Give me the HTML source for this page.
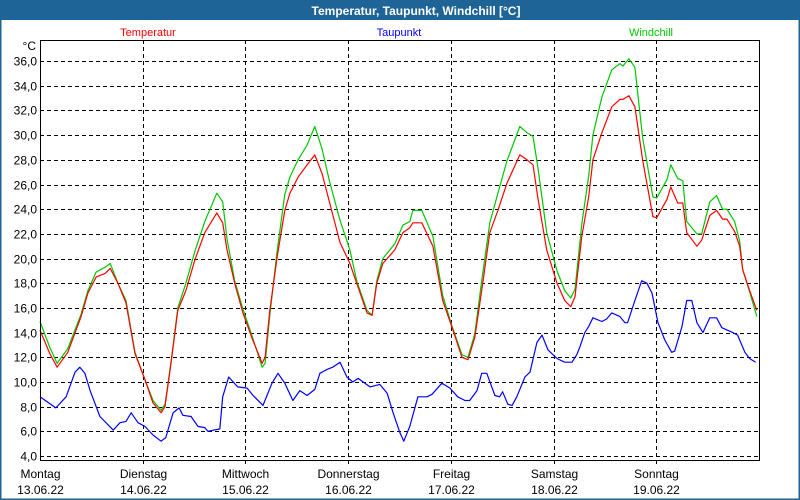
<!DOCTYPE html>
<html><head><meta charset="utf-8"><style>
body{margin:0;width:800px;height:500px;overflow:hidden;background:#fff;font-family:"Liberation Sans",sans-serif}
svg{display:block}
</style></head><body>
<svg id="chart" width="800" height="500" xmlns="http://www.w3.org/2000/svg" font-family="Liberation Sans, sans-serif">
<rect x="0.5" y="0.5" width="799" height="499" fill="#fff" stroke="#1f6496" stroke-width="2"/>
<rect x="0" y="0" width="800" height="20" fill="#1f6496"/>
<text x="416" y="15" text-anchor="middle" fill="#fff" font-size="12" font-weight="bold">Temperatur, Taupunkt, Windchill [°C]</text>
<text x="148" y="36" text-anchor="middle" fill="#ff0000" font-size="11">Temperatur</text>
<text x="399" y="36" text-anchor="middle" fill="#0000ff" font-size="11">Taupunkt</text>
<text x="651" y="36" text-anchor="middle" fill="#00c800" font-size="11">Windchill</text>
<text x="36" y="50" text-anchor="end" font-size="12">°C</text>
<g id="grid"></g>
<g id="series"></g>
<rect x="40.5" y="40.5" width="719" height="420" fill="none" stroke="#000" stroke-width="1"/>
<g id="labels"></g>
</svg>
<script>
const yTicks=[36,34,32,30,28,26,24,22,20,18,16,14,12,10,8,6,4];
const dayNames=["Montag","Dienstag","Mittwoch","Donnerstag","Freitag","Samstag","Sonntag"];
const dayDates=["13.06.22","14.06.22","15.06.22","16.06.22","17.06.22","18.06.22","19.06.22"];
const tHours=[0,2.3,4.0,6.5,9.6,11.2,13.1,15.2,16.4,18.2,20.1,22.2,24.5,26.4,28.3,29.2,30.6,32.2,34.1,36.2,38.5,41.3,42.7,43.7,45.5,47.4,49.5,51.9,52.6,53.7,55.4,57.2,58.4,60.3,62.4,64.2,65.9,67.7,70.1,72.4,74.0,76.4,77.6,78.7,80.1,82.9,84.8,86.4,87.1,89.2,91.8,94.1,96.2,98.6,100.0,101.6,103.2,105.1,107.0,109.1,112.1,113.8,115.2,116.3,118.4,120.8,122.6,124.0,125.0,126.6,128.2,129.2,131.3,133.6,135.5,136.2,137.6,139.0,140.8,143.2,144.1,146.5,147.4,149.0,150.2,151.1,153.5,154.6,156.5,158.1,159.5,160.5,162.3,163.5,164.2,165.8,167.5];
const temperatur=[14.2,12.3,11.2,12.4,15.3,17.2,18.5,18.8,19.2,18.0,16.4,12.3,10.2,8.3,7.5,8.0,11.5,15.8,17.4,19.9,22.1,23.7,22.9,20.7,18.0,15.6,13.6,11.5,12.0,15.8,20.1,23.9,25.3,26.6,27.6,28.4,26.9,24.5,21.3,19.6,18.0,15.6,15.4,18.0,19.6,20.7,22.1,22.5,22.9,22.9,21.0,16.6,14.5,12.0,11.8,13.6,17.4,22.1,23.9,26.1,28.4,28.0,27.6,25.0,20.7,18.0,16.6,16.1,16.9,21.8,25.0,28.0,30.2,32.3,32.9,32.9,33.2,32.3,28.0,23.4,23.3,24.8,25.8,24.5,24.5,22.1,21.0,21.5,23.5,23.9,23.2,23.2,22.2,21.0,19.1,17.4,15.8];
const windchill=[14.9,12.8,11.5,12.7,15.5,17.4,18.9,19.3,19.6,18.0,16.6,12.4,10.2,8.5,7.7,8.2,11.6,16.0,18.0,20.6,23.0,25.3,24.6,21.6,18.2,15.9,13.8,11.2,11.5,15.4,20.6,25.2,26.6,28.0,29.2,30.7,28.9,26.2,23.1,20.7,18.2,15.8,15.4,18.2,20.0,21.2,22.7,23.0,23.9,23.9,21.8,17.0,14.6,12.2,12.0,13.9,18.2,22.9,25.3,27.9,30.7,30.2,29.9,27.5,22.1,19.0,17.4,16.8,17.5,22.8,26.7,30.0,33.1,35.3,35.8,35.6,36.2,35.5,29.8,25.0,24.9,26.4,27.6,26.5,26.3,23.0,22.0,22.0,24.6,25.1,24.0,24.0,23.0,21.4,19.1,17.3,15.3];
const dHours=[0,3.7,6.1,8.2,9.3,10.5,11.7,14.0,17.1,18.7,20.1,21.3,22.9,24.5,26.4,28.3,29.4,31.1,32.5,33.4,35.3,36.9,38.5,39.2,42.0,42.7,44.1,46.2,48.4,49.8,52.1,54.2,55.6,57.2,59.1,60.7,62.4,64.2,65.4,67.0,68.4,70.1,71.7,73.1,74.3,77.1,79.4,81.1,82.5,84.1,85.0,86.4,88.3,90.4,91.6,93.9,95.8,97.6,99.3,100.4,102.1,103.2,104.4,106.3,107.4,108.1,109.3,110.3,111.4,113.3,114.5,116.1,117.3,118.7,120.8,122.6,124.3,125.4,126.1,127.3,128.2,129.2,131.3,132.4,133.6,135.5,136.7,137.3,139.0,140.6,141.8,143.0,144.4,146.0,147.6,148.3,150.0,151.1,152.3,153.5,154.9,156.5,158.1,159.3,161.9,163.0,164.7,165.8,167.2];
const taupunkt=[8.8,7.9,8.8,10.8,11.2,10.7,9.3,7.2,6.1,6.7,6.8,7.5,6.7,6.4,5.7,5.2,5.5,7.5,7.9,7.3,7.2,6.4,6.3,6.0,6.2,8.8,10.4,9.6,9.5,8.9,8.1,9.9,10.7,9.9,8.5,9.3,8.9,9.4,10.7,11.0,11.2,11.6,10.4,10.0,10.3,9.6,9.8,9.1,7.5,5.9,5.2,6.4,8.8,8.8,9.0,9.9,9.5,8.8,8.5,8.5,9.3,10.7,10.7,8.9,8.8,9.2,8.2,8.1,8.8,10.4,10.8,13.2,13.8,12.6,11.9,11.6,11.6,12.2,12.8,14.0,14.5,15.2,14.9,15.1,15.6,15.3,14.8,14.8,16.6,18.2,18.0,17.2,14.8,13.4,12.4,12.5,14.5,16.6,16.6,14.8,14.0,15.2,15.2,14.4,14.0,13.8,12.4,11.9,11.6];

const NS="http://www.w3.org/2000/svg";
const X0=40,X1=759,HMAX=168;
const yAt=v=>456-(v-4)*12.34;
const xAt=h=>X0+h*(X1-X0)/HMAX;
const grid=document.getElementById('grid'),labels=document.getElementById('labels'),series=document.getElementById('series');
function mk(tag,attrs,parent){const e=document.createElementNS(NS,tag);for(const k in attrs)e.setAttribute(k,attrs[k]);parent.appendChild(e);return e;}
yTicks.forEach(v=>{
  const y=Math.round(yAt(v))+0.5;
  const l=mk('line',{x1:X0,x2:X1,y1:y,y2:y,stroke:'#000','stroke-dasharray':'4,3'},grid);
  
  
  const t=mk('text',{x:37,y:y+4,'text-anchor':'end','font-size':12},labels);
  t.textContent=v.toFixed(1).replace('.',',');
  
  
});
dayNames.forEach((d,i)=>{
  const x=Math.round(xAt(i*24))+0.5;
  if(i>0){
    const l=mk('line',{x1:x,x2:x,y1:40,y2:466,stroke:'#000','stroke-dasharray':'4,3'},grid);
    
    
  }
  const t=mk('text',{x:x,y:478,'text-anchor':'middle','font-size':12},labels);
  t.textContent=d;
  
  
  const t2=mk('text',{x:x,y:494,'text-anchor':'middle','font-size':12},labels);
  t2.textContent=dayDates[i];
  
  
});
function line(hs,vs,color,name){
  const pts=hs.map((h,i)=>xAt(h).toFixed(1)+','+yAt(vs[i]).toFixed(1)).join(' ');
  const p=mk('polyline',{points:pts,fill:'none',stroke:color,'stroke-width':1.2,'stroke-linejoin':'round'},series);
  
  
}
line(dHours,taupunkt,'#0000ff','taupunkt-line');
line(tHours,windchill,'#00c800','windchill-line');
line(tHours,temperatur,'#ff0000','temperatur-line');
</script>
</body></html>
